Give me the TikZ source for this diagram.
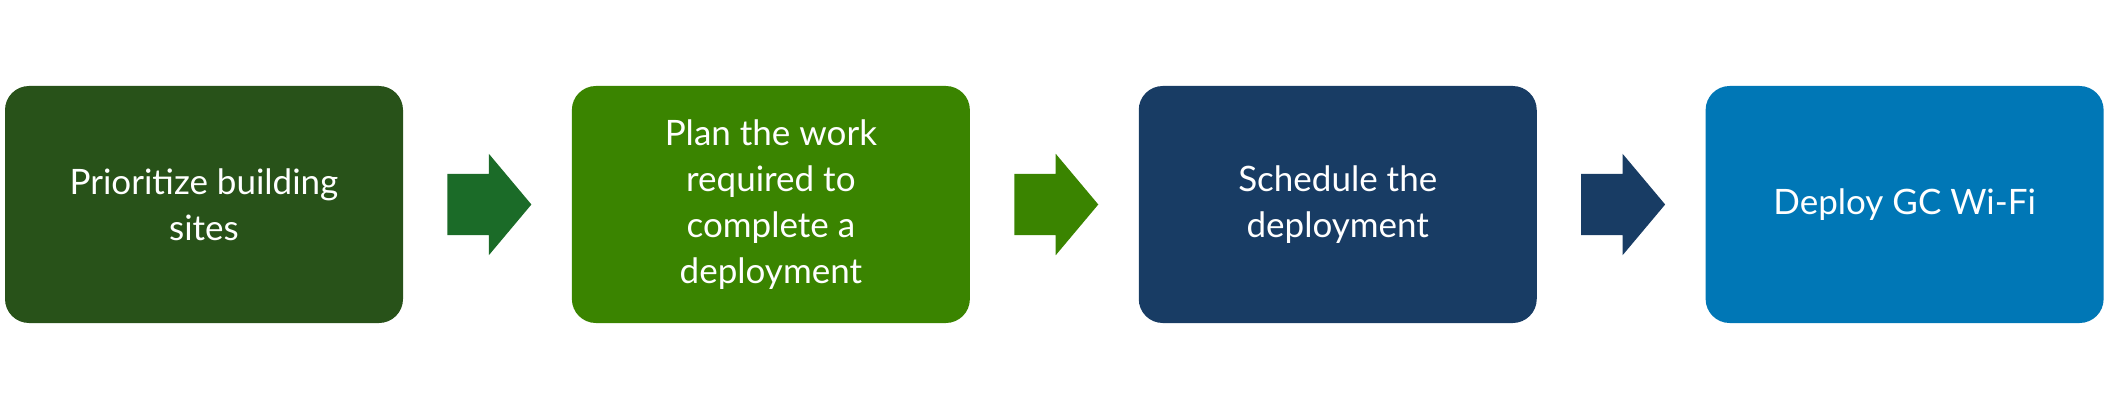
\documentclass[tikz,border=0pt]{standalone}
\usepackage{fontspec}
\setmainfont{Lato}
\usetikzlibrary{positioning,shapes.arrows}
\definecolor{boxa}{HTML}{285219}
\definecolor{arra}{HTML}{1B6B28}
\definecolor{boxb}{HTML}{3A8400}
\definecolor{boxc}{HTML}{183C64}
\definecolor{boxd}{HTML}{0077B6}
\tikzset{stage/.style={rectangle,rounded corners=24pt,minimum width=398pt,minimum height=237pt,
  align=center,text=white,inner sep=0,
  font=\fontsize{35}{46}\selectfont},
  go/.style={single arrow,single arrow head extend=20pt,single arrow tip angle=100,
  minimum width=101pt,minimum height=84pt,inner sep=0,inner ysep=30.5pt,shape border uses incircle=false}}
\begin{document}
\begin{tikzpicture}[x=1pt,y=1pt]
\useasboundingbox (0,0) rectangle (2107,-409);
\node[stage,fill=boxa] (s1) at (204,-204.5) {Prioritize building\\sites};
\node[go,fill=arra,right=44pt of s1] (a1) {};
\node[stage,fill=boxb,right=40pt of a1] (s2) {Plan the work\\required to\\complete a\\deployment};
\node[go,fill=boxb,right=44pt of s2] (a2) {};
\node[stage,fill=boxc,right=40pt of a2] (s3) {Schedule the\\deployment};
\node[go,fill=boxc,right=44pt of s3] (a3) {};
\node[stage,fill=boxd,right=40pt of a3] (s4) {Deploy GC Wi-Fi};
\end{tikzpicture}
\end{document}
